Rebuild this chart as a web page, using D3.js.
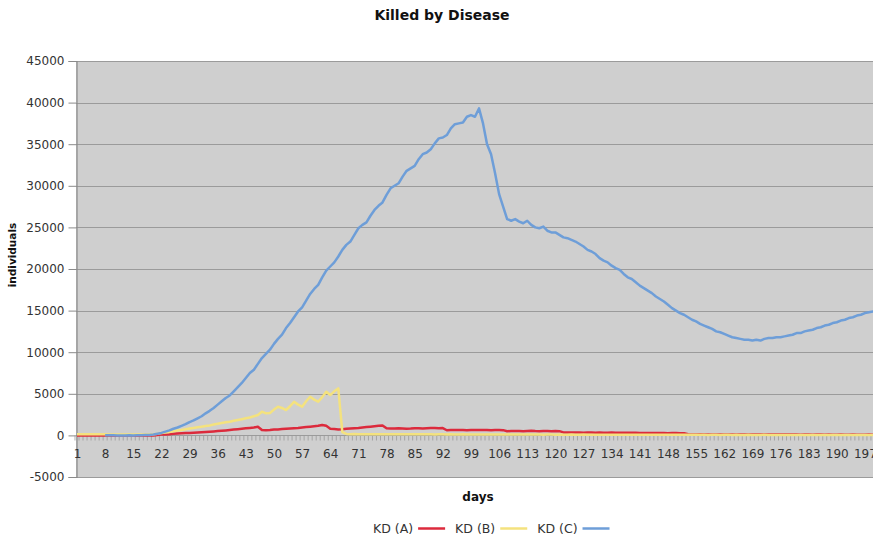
<!DOCTYPE html>
<html><head><meta charset="utf-8">
<script src="https://cdn.jsdelivr.net/npm/d3@7"></script>
<style>
body{margin:0;background:#fff;}
svg{display:block;font-family:"DejaVu Sans",Verdana,sans-serif;}
</style>
</head><body>
<svg id="chart" width="873" height="536"></svg>
<script>
// ---------- data ----------
const days = d3.range(1, 201);
const xTickLabels = [1,8,15,22,29,36,43,50,57,64,71,78,85,92,99,106,113,120,127,134,141,148,155,162,169,176,183,190,197];
const yTickLabels = [-5000,0,5000,10000,15000,20000,25000,30000,35000,40000,45000];
const seriesNames = ["KD (A)", "KD (B)", "KD (C)"];
const seriesColors = ["#dc2a3c", "#f4e27e", "#6e9ed8"];

const killedA = [
  0,0,0,0,0,0,0,0,0,0,0,0,0,0,0,0,0,0,0,0,
  50,100,120,150,200,230,250,280,300,320,350,380,420,450,480,520,560,600,650,700,750,800,850,900,950,1050,
  650,620,650,700,720,760,800,830,870,900,950,1000,1050,1100,1150,1250,1150,
  800,760,720,750,800,830,870,900,950,1000,1050,1100,1150,1200,
  850,830,820,850,840,800,820,860,850,820,850,880,900,870,880,
  620,650,640,660,650,630,660,650,640,660,650,620,640,650,630,
  500,520,540,520,500,530,550,520,510,540,520,500,520,510,
  360,350,340,360,350,330,350,340,320,340,330,320,340,330,320,310,330,320,310,
  300,290,300,280,290,300,280,270,290,280,270,260,
  130,120,120,130,120,110,120,120,110,120,110,110,
  120,110,100,110,110,100,110,100,100,110,100,100,
  100,110,100,100,90,100,100,90,100,100,90,100,
  90,90,100,90,90,100,90,90,90,100,90,90
];

const killedB = [
  150,150,150,150,150,150,150,150,
  100,100,100,100,100,100,100,100,100,100,100,
  150,200,280,350,420,500,580,650,740,820,900,980,1050,1120,1200,1300,1400,1500,1580,1650,1750,1850,1950,2050,2150,2300,2450,
  2850,2650,2700,3100,3450,3300,3050,3500,4050,3700,3450,4100,4650,4300,4050,4600,5250,4850,5300,5650,
  400,180,
  150,160,150,140,150,150,140,150,140,140,150,140,130,140,140,130,
  140,130,130,140,130,120,130,130,120,130,120,120,130,120,120,110,
  120,110,110,120,110,100,110,110,100,110,
  100,110,100,100,110,100,90,100,100,90,
  100,90,90,100,90,90,100,90,80,90,
  90,80,90,90,80,90,80,80,90,80,
  80,90,80,80,70,80,80,70,80,80,
  70,80,70,70,80,70,70,60,70,70,
  60,70,70,60,70,60,60,70,60,60,
  60,70,60,60,50,60,60,50,60,60,
  50,60,50,50,60,50,50,50,60,50,
  50,50,40,50,50,40,50,50,40,50
];

const killedC = [
  null,null,null,null,null,null,null,
  30,20,10,0,0,0,10,0,20,30,40,
  50,100,200,300,450,600,800,950,1150,1350,1600,1800,
  2050,2300,2650,2950,3300,3700,4100,4500,4800,5300,
  5800,6300,6900,7500,7900,8600,9300,9800,10300,11000,
  11600,12100,12900,13500,14200,14900,15400,16200,17000,17600,
  18100,19000,19800,20300,20800,21500,22300,22900,23300,24100,
  24900,25300,25600,26400,27100,27600,28000,28900,29700,30000,
  30300,31100,31800,32100,32400,33200,33800,34000,34400,35100,
  35700,35800,36100,36900,37400,37500,37600,38300,38500,38300,
  39300,37500,35000,33800,31500,29000,27500,26000,25800,26000,
  25700,25500,25800,25300,25000,24900,25100,24600,24400,24400,
  24100,23800,23700,23500,23300,23000,22700,22300,22100,21800,
  21300,21000,20800,20400,20100,19900,19400,19000,18800,18400,
  18000,17700,17400,17100,16700,16400,16100,15700,15300,15000,
  14700,14500,14200,13900,13700,13400,13200,13000,12800,12500,
  12400,12200,12000,11800,11700,11600,11500,11500,11400,11500,
  11400,11600,11700,11700,11800,11800,11900,12000,12100,12300,
  12300,12500,12600,12700,12900,13000,13200,13300,13500,13600,
  13800,13900,14100,14200,14400,14500,14700,14800,14900,15100
];

const seriesValues = [killedA, killedB, killedC];

// ---------- drawing ----------
const svg = d3.select("#chart");
const W = 873, H = 536;
const plotLeft = 76, plotTop = 61, plotBottom = 477;
const step = 4.02;

const x = d3.scalePoint().domain(days).range([77, 77 + (days.length - 1) * step]);
const y = d3.scaleLinear().domain([-5000, 45000]).range([plotBottom, plotTop]);

// title
svg.append("text").attr("x", 442).attr("y", 20).attr("text-anchor", "middle")
  .attr("font-weight", "bold").attr("font-size", 14).attr("fill", "#111")
  .text("Killed by Disease");

// plot background
svg.append("rect").attr("x", plotLeft).attr("y", plotTop)
  .attr("width", W - plotLeft + 10).attr("height", plotBottom - plotTop)
  .attr("fill", "#cfcfcf");

// gridlines
svg.append("g").selectAll("line").data(yTickLabels).join("line")
  .attr("x1", plotLeft).attr("x2", W + 10)
  .attr("y1", d => Math.round(y(d)) + 0.5).attr("y2", d => Math.round(y(d)) + 0.5)
  .attr("stroke", "#9b9b9b").attr("stroke-width", 1.2);

// y axis
const yAxis = svg.append("g").attr("transform", `translate(${plotLeft + 0.5},0)`)
  .call(d3.axisLeft(y).tickValues(yTickLabels).tickSize(8).tickPadding(4).tickFormat(d => String(d)));
yAxis.select(".domain").attr("stroke", "#8a8a8a").attr("stroke-width", 1.2);
yAxis.selectAll(".tick line").attr("stroke", "#8a8a8a");
yAxis.selectAll("text").attr("font-size", 12).attr("fill", "#333").attr("font-family", "DejaVu Sans, sans-serif");

// x axis at zero: minor ticks at category boundaries
const y0 = Math.round(y(0)) + 0.5;
svg.append("g").selectAll("line").data(days).join("line")
  .attr("x1", d => x(d) - step / 2).attr("x2", d => x(d) - step / 2)
  .attr("y1", y0).attr("y2", y0 + 5)
  .attr("stroke", "#9a9a9a").attr("stroke-width", 0.8);

const xAxis = svg.append("g").attr("transform", `translate(0,${y0})`)
  .call(d3.axisBottom(x).tickValues(xTickLabels).tickSize(0).tickPadding(14));
xAxis.select(".domain").remove();
xAxis.selectAll("text").attr("font-size", 12).attr("fill", "#333").attr("font-family", "DejaVu Sans, sans-serif");

// lines
svg.append("clipPath").attr("id", "clip").append("rect")
  .attr("x", plotLeft).attr("y", plotTop - 5).attr("width", W).attr("height", plotBottom - plotTop + 10);

const line = d3.line()
  .defined(v => v != null)
  .x((v, i) => x(days[i]))
  .y(v => y(v));

const lg = svg.append("g").attr("clip-path", "url(#clip)");
seriesValues.forEach((vals, i) => {
  lg.append("path").datum(vals)
    .attr("fill", "none").attr("stroke", seriesColors[i])
    .attr("stroke-width", 2.5).attr("stroke-linejoin", "round")
    .attr("d", line);
});

// axis titles
svg.append("text").attr("transform", "translate(16,255) rotate(-90)")
  .attr("text-anchor", "middle").attr("font-weight", "bold").attr("font-size", 10.5).attr("fill", "#111")
  .text("individuals");
svg.append("text").attr("x", 478).attr("y", 501).attr("text-anchor", "middle")
  .attr("font-weight", "bold").attr("font-size", 12).attr("fill", "#111")
  .text("days");

// legend
let lx = 373;
const ly = 533;
seriesNames.forEach((name, i) => {
  const t = svg.append("text").attr("x", lx).attr("y", ly)
    .attr("font-size", 12.5).attr("fill", "#333").text(name);
  const w = t.node().getComputedTextLength();
  const l1 = lx + w + 5;
  svg.append("line").attr("x1", l1).attr("x2", l1 + 27)
    .attr("y1", ly - 4.5).attr("y2", ly - 4.5)
    .attr("stroke", seriesColors[i]).attr("stroke-width", 2.5);
  lx = l1 + 27 + 10;
});
</script>
</body></html>
